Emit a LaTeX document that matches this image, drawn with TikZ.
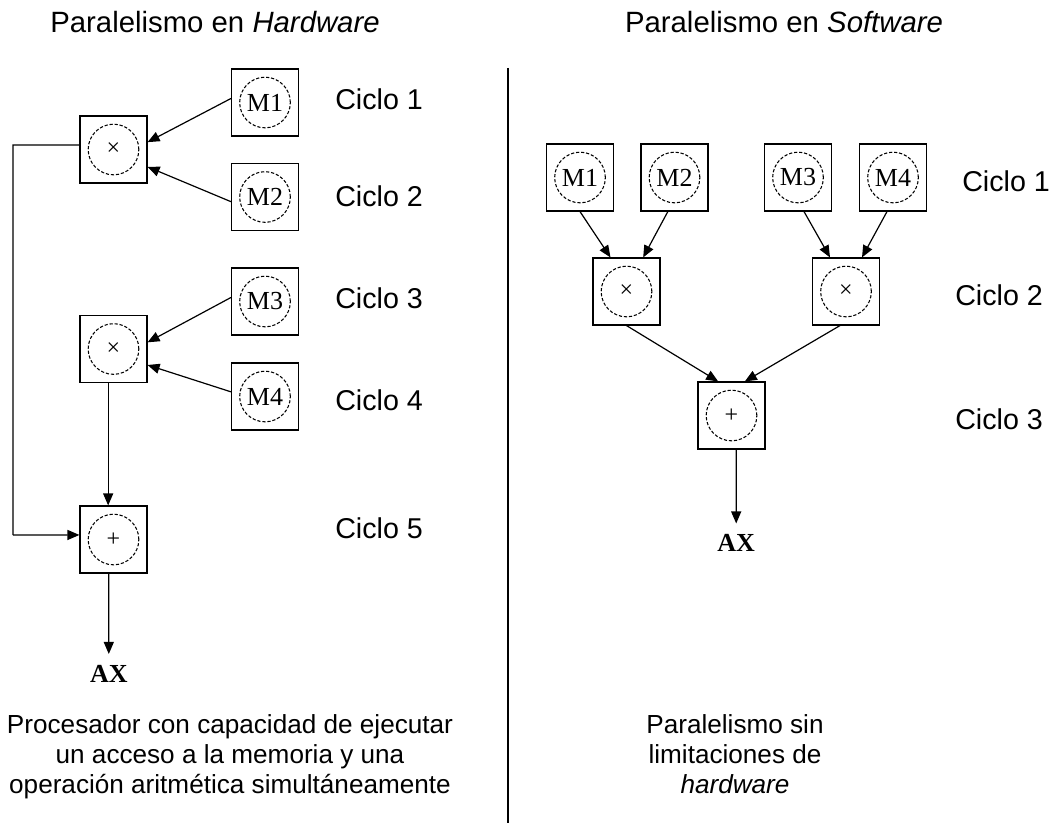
\documentclass[tikz,border=0pt]{standalone}
\usepackage{fontspec}
\setmainfont{Liberation Sans}
\newfontfamily\serifnum{Liberation Serif}
\usetikzlibrary{arrows.meta,calc}

\tikzset{
  cell/.style={draw, line width=1.1pt, minimum size=50pt, inner sep=0pt},
  ring/.style={draw, circle, dash pattern=on 2.4pt off 1.4pt, line width=0.8pt,
               minimum size=38pt, inner sep=0pt, font=\serifnum\fontsize{19.5}{19.5}\selectfont},
  opring/.style={ring, font=\serifnum\fontsize{18}{18}\selectfont},
  link/.style={line width=0.9pt, -{Triangle[length=9pt,width=7.5pt]}},
  plain/.style={line width=0.9pt},
  cyc/.style={anchor=base west, inner sep=0pt, font=\fontsize{21.5}{21.5}\selectfont},
  head/.style={anchor=base, inner sep=0pt, font=\fontsize{22}{22}\selectfont},
  note/.style={anchor=north, inner sep=0pt, align=center, font=\fontsize{19.6}{22.5}\selectfont},
  result/.style={inner sep=0pt, font=\serifnum\bfseries\fontsize{19.5}{19.5}\selectfont},
}

\begin{document}
\begin{tikzpicture}[x=0.75pt, y=-0.75pt]
\useasboundingbox (0,0) rectangle (1053,823);

% headings and divider
\node[head] (th) at (215,33) {Paralelismo en \textit{Hardware}};
\node[head] (ts) at (784,33) {Paralelismo en \textit{Software}};
\coordinate (dtop) at (508,68);
\coordinate (dbot) at (508,823);
\draw[line width=1pt] (dtop) -- (dbot);

% ---- left: one memory access per cycle ----
\node[cell] (lm1) at (265,102.5) {}; \node[ring] at (lm1) {M1};
\node[cell] (lm2) at (265,197)   {}; \node[ring] at (lm2) {M2};
\node[cell] (lm3) at (265,301.5) {}; \node[ring] at (lm3) {M3};
\node[cell] (lm4) at (265,396.5) {}; \node[ring] at (lm4) {M4};
\node[cell] (lx1) at (113.5,149.5) {}; \node[opring] at (lx1) {×};
\node[cell] (lx2) at (113.5,349)   {}; \node[opring] at (lx2) {×};
\node[cell] (lsum) at (113.5,539.5) {}; \node[opring] at (lsum) {+};
\node[result] (lax) at (108.8,673.5) {AX};

\draw[link] ([yshift=3pt]lm1.west) -- ([yshift=5.5pt]lx1.east);
\draw[link] ([yshift=-3.5pt]lm2.west) -- ([yshift=-13pt]lx1.east);
\draw[link] ([yshift=3pt]lm3.west) -- ([yshift=5pt]lx2.east);
\draw[link] ([yshift=3.5pt]lm4.west) -- ([yshift=-12pt]lx2.east);

\coordinate (loopA) at (13,145);
\coordinate (loopB) at (13,535);
\draw[plain] ([yshift=3.4pt]lx1.west) -- (loopA) -- (loopB);
\draw[link] (loopB) -- ([yshift=3.4pt]lsum.west);
\draw[link] ([xshift=-4pt]lx2.south) -- ([xshift=-4pt]lsum.north);
\draw[link] ([xshift=-3.5pt]lsum.south) -- ([yshift=8pt]lax.north);

\node[cyc] (lc1) at (335,110) {Ciclo 1};
\node[cyc] (lc2) at (335,207) {Ciclo 2};
\node[cyc] (lc3) at (335,309) {Ciclo 3};
\node[cyc] (lc4) at (335,411) {Ciclo 4};
\node[cyc] (lc5) at (335,538) {Ciclo 5};

\node[note] (ln) at (230,714) {Procesador con capacidad de ejecutar\\un acceso a la memoria y una\\operación aritmética simultáneamente};

% ---- right: unrestricted parallelism ----
\node[cell] (rm1) at (580,177.5) {}; \node[ring] at (rm1) {M1};
\node[cell] (rm2) at (674.5,177.5) {}; \node[ring] at (rm2) {M2};
\node[cell] (rm3) at (798,177.5) {}; \node[ring] at (rm3) {M3};
\node[cell] (rm4) at (893,177.5) {}; \node[ring] at (rm4) {M4};
\node[cell] (rx1) at (626.5,291.5) {}; \node[opring] at (rx1) {×};
\node[cell] (rx2) at (846,291.5) {}; \node[opring] at (rx2) {×};
\node[cell] (rsum) at (731.5,415.5) {}; \node[opring] at (rsum) {+};
\node[result] (rax) at (736.2,543) {AX};

\draw[link] ([xshift=0pt]rm1.south) -- ([xshift=-12pt]rx1.north);
\draw[link] ([xshift=-5pt]rm2.south) -- ([xshift=12.5pt]rx1.north);
\draw[link] ([xshift=4.5pt]rm3.south) -- ([xshift=-12pt]rx2.north);
\draw[link] ([xshift=-4.5pt]rm4.south) -- ([xshift=12pt]rx2.north);
\draw[link] (rx1.south) -- ([xshift=-10pt]rsum.north);
\draw[link] ([xshift=-4.5pt]rx2.south) -- ([xshift=10pt]rsum.north);
\draw[link] ([xshift=3.5pt]rsum.south) -- ([yshift=8pt]rax.north);

\node[cyc] (rc1) at (962,192) {Ciclo 1};
\node[cyc] (rc2) at (955,306) {Ciclo 2};
\node[cyc] (rc3) at (955,430) {Ciclo 3};

\node[note] (rn) at (735,714) {Paralelismo sin\\limitaciones de\\\textit{hardware}};
\end{tikzpicture}
\end{document}
